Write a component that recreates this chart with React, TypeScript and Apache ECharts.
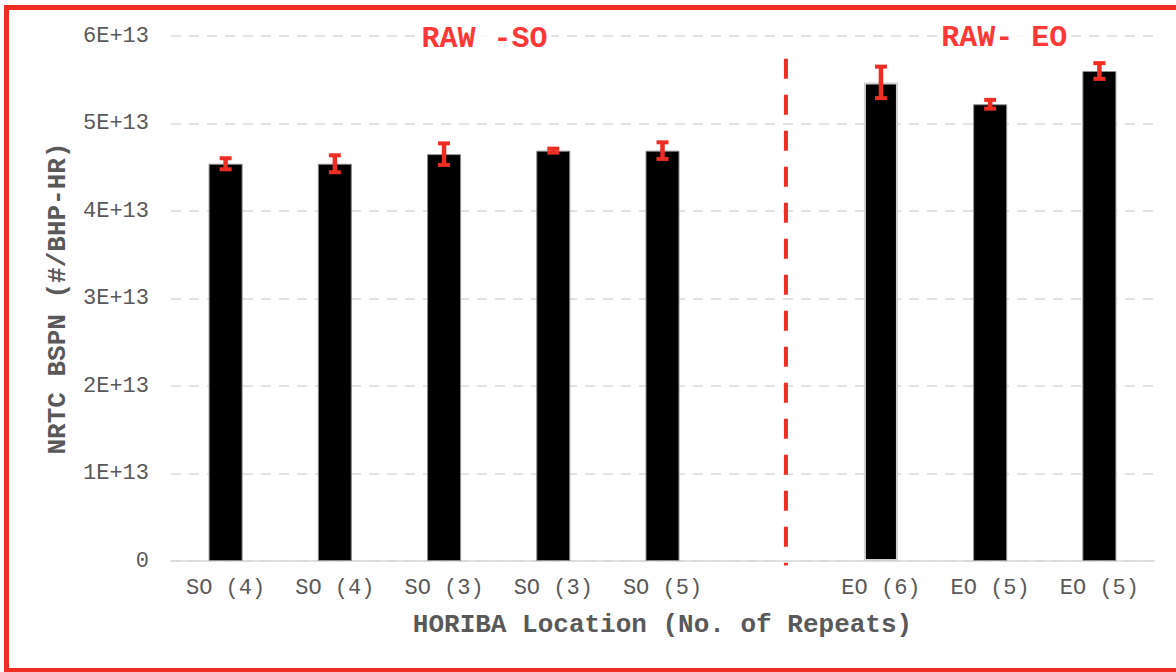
import React, { useEffect, useRef } from "react";
import * as echarts from "echarts";

const categories = ["SO (4)", "SO (4)", "SO (3)", "SO (3)", "SO (5)", "", "EO (6)", "EO (5)", "EO (5)"];
const means: (number | null)[] = [4.54e13, 4.54e13, 4.65e13, 4.69e13, 4.69e13, null, 5.47e13, 5.22e13, 5.6e13];
const errors: (number | null)[] = [0.063e13, 0.097e13, 0.123e13, 0.023e13, 0.095e13, null, 0.18e13, 0.05e13, 0.09e13];
const yTicks = { min: 0, max: 6e13, interval: 1e13 };
const groupLabels = [
  { text: "RAW -SO", x: 2.87, y: 5.97e13 },
  { text: "RAW- EO", x: 7.63, y: 5.98e13 },
];
const dividerX = 5.63;
const dividerTop = 5.74e13;
const dividerBottom = -0.05e13;

const RED = "#EE2E24";
const LABEL_RED = "#FF0000";
const GRAY = "#595959";
const FONT = "'Courier New', 'Nimbus Mono PS', 'Nimbus Mono L', FreeMono, 'Liberation Mono', monospace";

function formatSci(v: number): string {
  if (v === 0) return "0";
  const exp = Math.floor(Math.log10(v));
  const mant = Math.round(v / Math.pow(10, exp));
  return `${mant}E+${exp}`;
}

export default function App() {
  const ref = useRef<HTMLDivElement>(null);
  useEffect(() => {
    if (!ref.current) return;
    const chart = echarts.init(ref.current, undefined, { renderer: "svg" });
    const errData = means
      .map((m, i) => (m == null || errors[i] == null ? null : [i, m, errors[i] as number]))
      .filter((d) => d != null);
    chart.setOption({
      animation: false,
      backgroundColor: "#ffffff",
      grid: { left: 171, right: 22, top: 36, bottom: 111, containLabel: false },
      xAxis: [
        {
          type: "category",
          data: categories,
          axisLine: { lineStyle: { color: "#D9D9D9", width: 1.5 } },
          axisTick: { show: false },
          axisLabel: { color: GRAY, fontFamily: FONT, fontSize: 22, margin: 16, interval: 0 },
          name: "HORIBA Location (No. of Repeats)",
          nameLocation: "middle",
          nameGap: 51,
          nameTextStyle: { color: GRAY, fontFamily: FONT, fontSize: 26, fontWeight: "bold" },
        },
        { type: "value", min: 0, max: 9, show: false },
      ],
      yAxis: {
        type: "value",
        min: yTicks.min,
        max: yTicks.max,
        interval: yTicks.interval,
        axisLine: { show: false },
        axisTick: { show: false },
        axisLabel: {
          color: GRAY,
          fontFamily: FONT,
          fontSize: 22,
          margin: 22,
          formatter: (v: number) => formatSci(v),
        },
        splitLine: { lineStyle: { color: "#D9D9D9", width: 1.5, type: [10, 8] } },
        name: "NRTC BSPN (#/BHP-HR)",
        nameLocation: "middle",
        nameGap: 100,
        nameTextStyle: { color: GRAY, fontFamily: FONT, fontSize: 26, fontWeight: "bold" },
      },
      graphic: [
        {
          type: "rect",
          shape: { x: 6.5, y: 7.5, width: 1180, height: 663 },
          style: { fill: "none", stroke: RED, lineWidth: 5 },
          silent: true,
          z: 100,
        },
      ],
      series: [
        {
          type: "bar",
          data: means.map((m, i) =>
            m == null
              ? null
              : {
                  value: m,
                  itemStyle:
                    i === 6
                      ? { color: "#000", borderColor: "#CFCFCF", borderWidth: 2 }
                      : { color: "#000", borderColor: "#8C8C8C", borderWidth: 1 },
                }
          ),
          barWidth: 34,
          z: 2,
        },
        {
          type: "custom",
          data: errData,
          encode: { x: 0, y: [1] },
          z: 5,
          renderItem: (params: any, api: any) => {
            const i = api.value(0);
            const m = api.value(1);
            const e = api.value(2);
            const top = api.coord([i, m + e]);
            const bot = api.coord([i, m - e]);
            const hw = 6;
            const style = { stroke: RED, lineWidth: 4.5, fill: "none" };
            return {
              type: "group",
              children: [
                { type: "line", shape: { x1: top[0], y1: top[1], x2: bot[0], y2: bot[1] }, style },
                { type: "line", shape: { x1: top[0] - hw, y1: top[1], x2: top[0] + hw, y2: top[1] }, style: { ...style, lineWidth: 4 } },
                { type: "line", shape: { x1: bot[0] - hw, y1: bot[1], x2: bot[0] + hw, y2: bot[1] }, style: { ...style, lineWidth: 4 } },
              ],
            };
          },
        },
        {
          type: "line",
          xAxisIndex: 1,
          data: [
            [dividerX, dividerTop],
            [dividerX, dividerBottom],
          ],
          symbol: "none",
          lineStyle: { color: RED, width: 4, type: [20, 16] },
          clip: false,
          z: 3,
        },
        {
          type: "scatter",
          xAxisIndex: 1,
          symbolSize: 0,
          data: groupLabels.map((g) => ({ value: [g.x, g.y], name: g.text })),
          label: {
            show: true,
            position: "inside",
            formatter: (p: any) => p.name,
            color: LABEL_RED,
            fontFamily: FONT,
            fontWeight: "bold",
            fontSize: 30,
            backgroundColor: "#ffffff",
            padding: [0, 4],
          },
          z: 6,
        },
      ],
    });
    return () => chart.dispose();
  }, []);
  return <div ref={ref} style={{ position: "absolute", left: 0, top: 0, width: 1176, height: 672 }} />;
}
